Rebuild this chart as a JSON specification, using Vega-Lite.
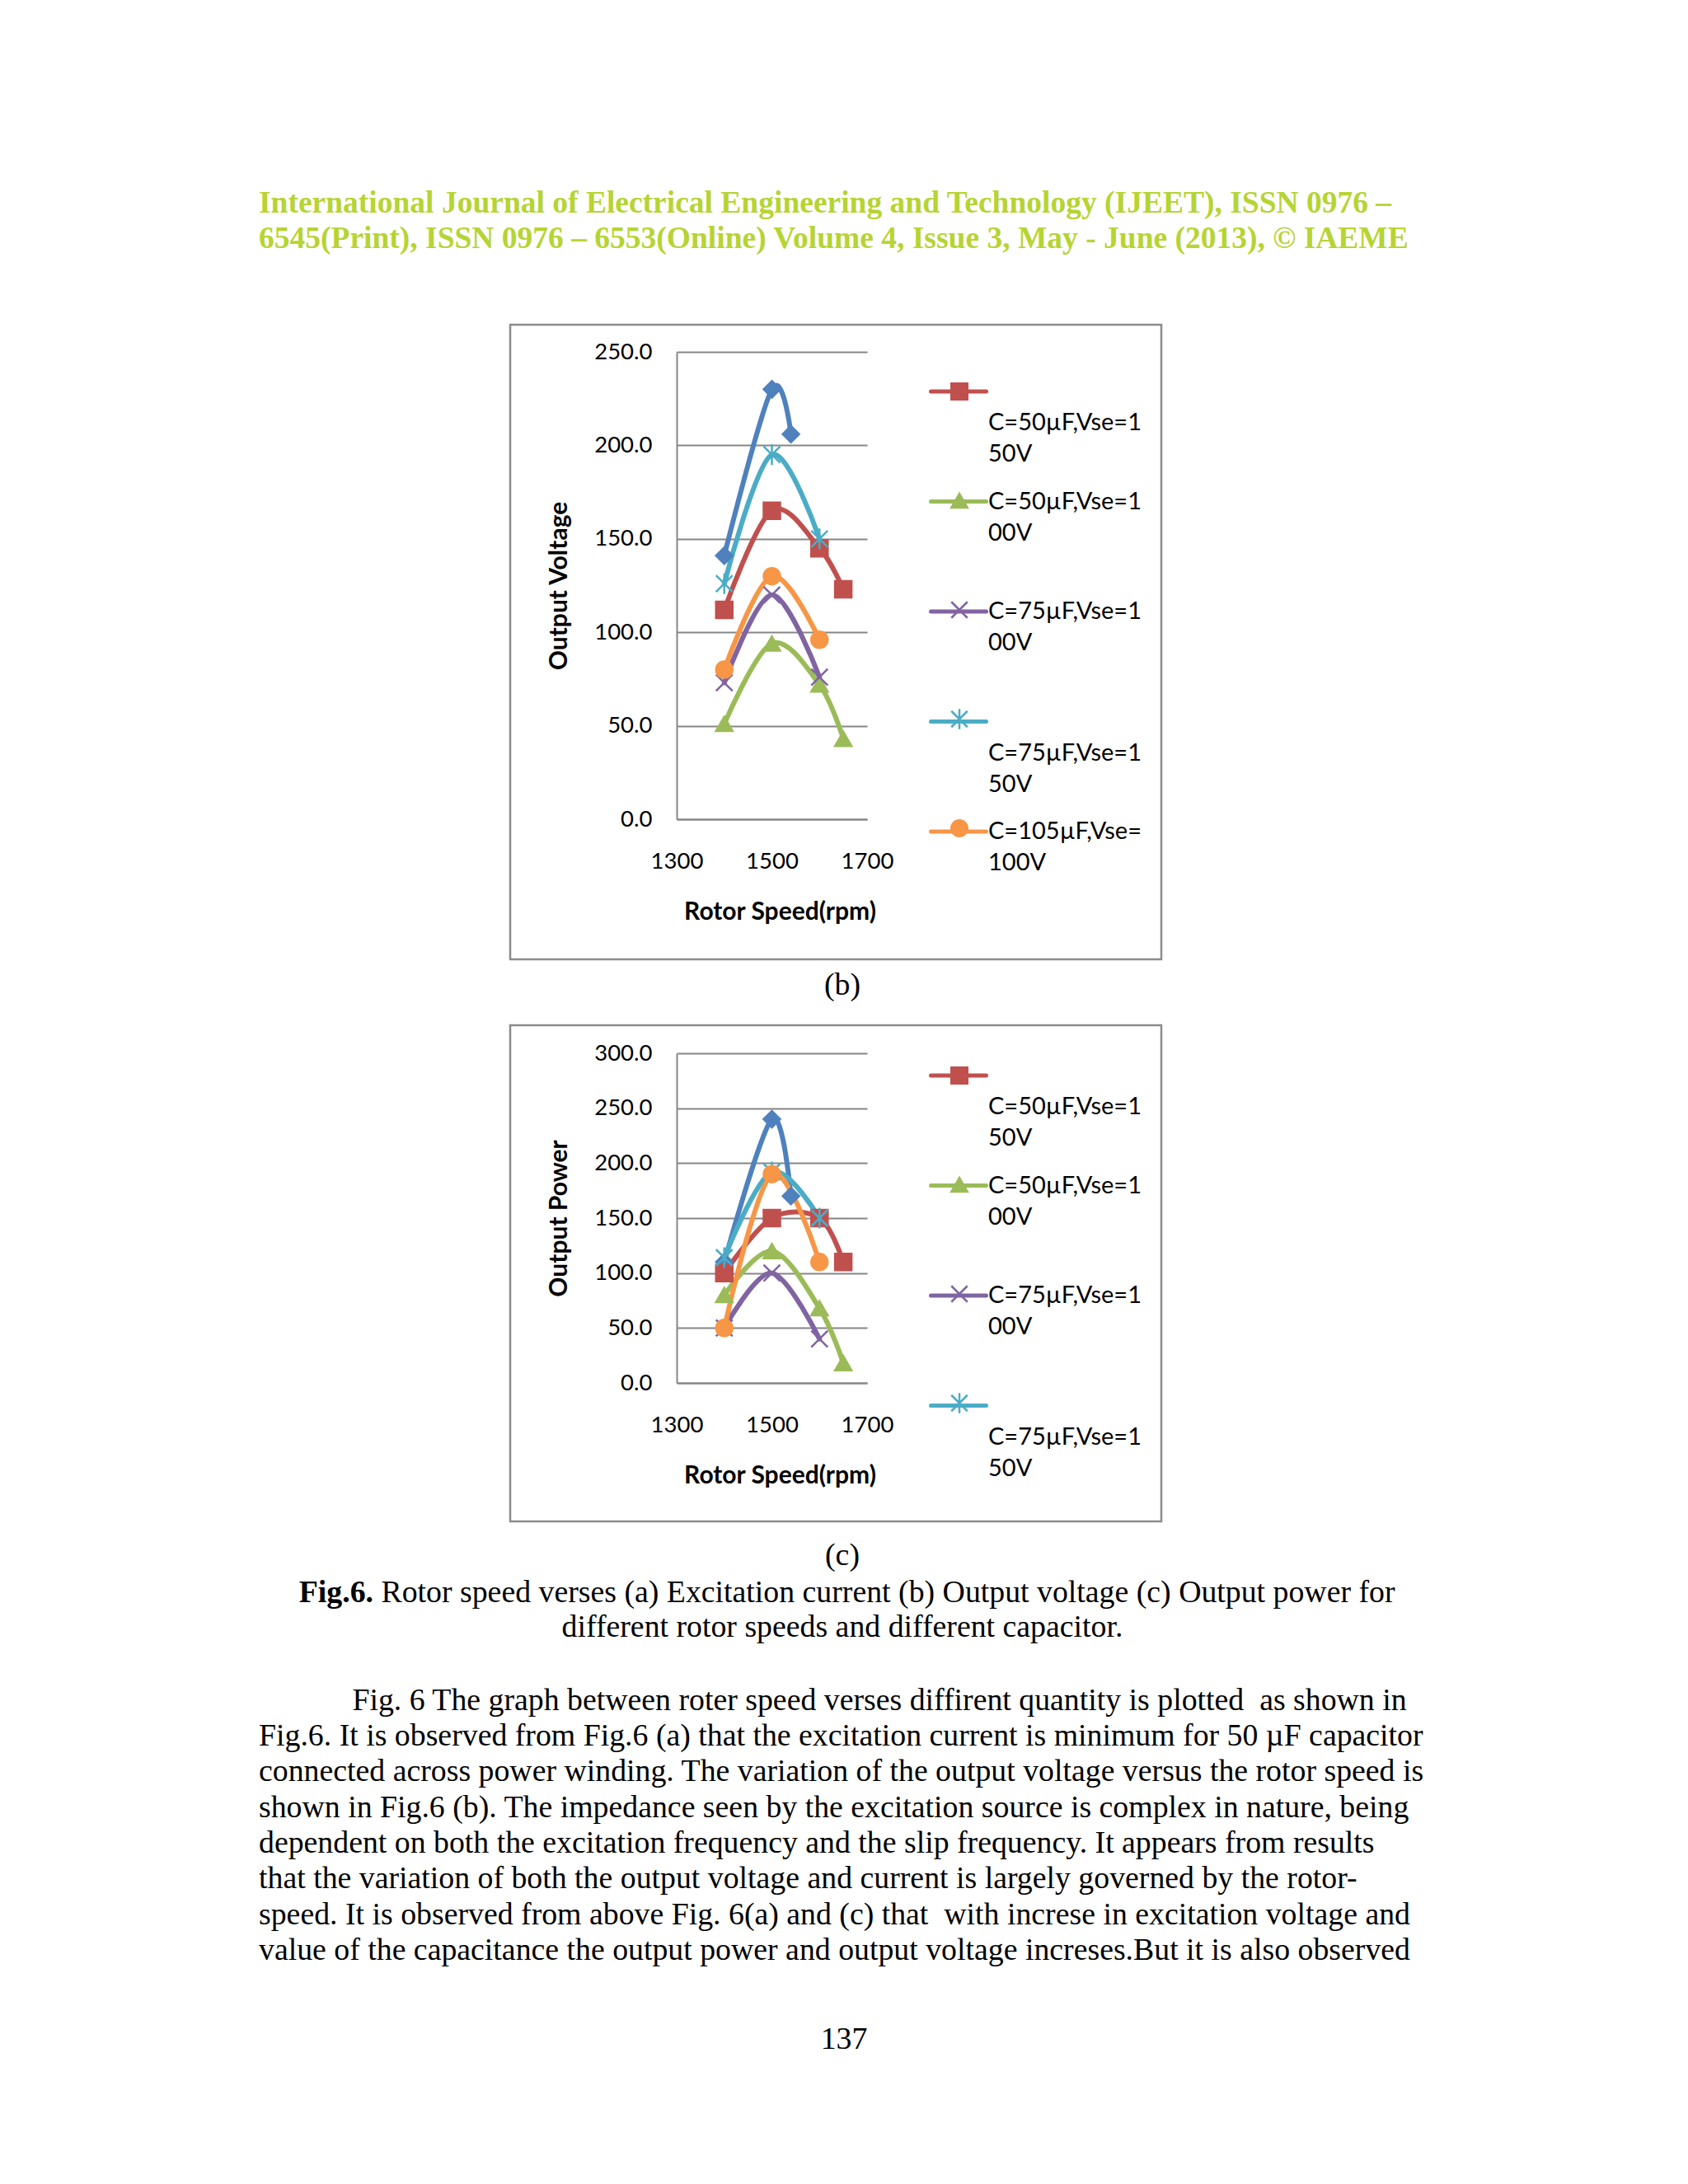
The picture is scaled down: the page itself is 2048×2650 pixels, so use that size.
{
  "$schema": "https://vega.github.io/schema/vega-lite/v6.json",
  "background": "white",
  "padding": 0,
  "spacing": 0,
  "bounds": "full",
  "config": {"view": {"stroke": null}},
  "resolve": {
    "scale": {"color": "independent", "fill": "independent", "stroke": "independent", "shape": "independent"},
    "legend": {"color": "independent", "fill": "independent", "stroke": "independent", "shape": "independent"}
  },
  "datasets": {
    "voltage": [
      {"series": "C=105µF,Vse=150V", "rpm": 1400, "value": 141},
      {"series": "C=105µF,Vse=150V", "rpm": 1500, "value": 230},
      {"series": "C=105µF,Vse=150V", "rpm": 1540, "value": 206},
      {"series": "C=50µF,Vse=150V", "rpm": 1400, "value": 112},
      {"series": "C=50µF,Vse=150V", "rpm": 1500, "value": 165},
      {"series": "C=50µF,Vse=150V", "rpm": 1600, "value": 145},
      {"series": "C=50µF,Vse=150V", "rpm": 1650, "value": 123},
      {"series": "C=50µF,Vse=100V", "rpm": 1400, "value": 51},
      {"series": "C=50µF,Vse=100V", "rpm": 1500, "value": 94},
      {"series": "C=50µF,Vse=100V", "rpm": 1600, "value": 72},
      {"series": "C=50µF,Vse=100V", "rpm": 1650, "value": 43},
      {"series": "C=75µF,Vse=100V", "rpm": 1400, "value": 73},
      {"series": "C=75µF,Vse=100V", "rpm": 1500, "value": 120},
      {"series": "C=75µF,Vse=100V", "rpm": 1600, "value": 76},
      {"series": "C=75µF,Vse=150V", "rpm": 1400, "value": 126},
      {"series": "C=75µF,Vse=150V", "rpm": 1500, "value": 195},
      {"series": "C=75µF,Vse=150V", "rpm": 1600, "value": 150},
      {"series": "C=105µF,Vse=100V", "rpm": 1400, "value": 80},
      {"series": "C=105µF,Vse=100V", "rpm": 1500, "value": 130},
      {"series": "C=105µF,Vse=100V", "rpm": 1600, "value": 96}
    ],
    "power": [
      {"series": "C=105µF,Vse=150V", "rpm": 1400, "value": 110},
      {"series": "C=105µF,Vse=150V", "rpm": 1500, "value": 240},
      {"series": "C=105µF,Vse=150V", "rpm": 1540, "value": 170},
      {"series": "C=50µF,Vse=150V", "rpm": 1400, "value": 100},
      {"series": "C=50µF,Vse=150V", "rpm": 1500, "value": 150},
      {"series": "C=50µF,Vse=150V", "rpm": 1600, "value": 150},
      {"series": "C=50µF,Vse=150V", "rpm": 1650, "value": 110},
      {"series": "C=50µF,Vse=100V", "rpm": 1400, "value": 80},
      {"series": "C=50µF,Vse=100V", "rpm": 1500, "value": 120},
      {"series": "C=50µF,Vse=100V", "rpm": 1600, "value": 68},
      {"series": "C=50µF,Vse=100V", "rpm": 1650, "value": 18},
      {"series": "C=75µF,Vse=100V", "rpm": 1400, "value": 50},
      {"series": "C=75µF,Vse=100V", "rpm": 1500, "value": 100},
      {"series": "C=75µF,Vse=100V", "rpm": 1600, "value": 40},
      {"series": "C=75µF,Vse=150V", "rpm": 1400, "value": 114},
      {"series": "C=75µF,Vse=150V", "rpm": 1500, "value": 192},
      {"series": "C=75µF,Vse=150V", "rpm": 1600, "value": 150},
      {"series": "C=105µF,Vse=100V", "rpm": 1400, "value": 50},
      {"series": "C=105µF,Vse=100V", "rpm": 1500, "value": 190},
      {"series": "C=105µF,Vse=100V", "rpm": 1600, "value": 110}
    ]
  },
  "vconcat": [
    {"width": 10, "height": 224.5, "data": {"values": []}, "mark": "point"},
    {
      "width": 628, "height": 86,
      "data": {"values": [
        {"line": 1, "t": "International Journal of Electrical Engineering and Technology (IJEET), ISSN 0976 –"},
        {"line": 2, "t": "6545(Print), ISSN 0976 – 6553(Online) Volume 4, Issue 3, May - June (2013), © IAEME"}
      ]},
      "mark": {"type": "text", "align": "left", "baseline": "middle", "font": "Liberation Serif", "fontWeight": "bold", "fontSize": 37.5, "color": "#b6d433"},
      "encoding": {
        "y": {"field": "line", "type": "ordinal", "axis": null, "scale": {"type": "band", "paddingInner": 0, "paddingOuter": 0}},
        "text": {"field": "t", "type": "nominal"}
      }
    },
    {"width": 10, "height": 80.25, "data": {"values": []}, "mark": "point"},
    {
      "resolve": {
        "scale": {"color": "independent", "fill": "independent", "stroke": "independent", "shape": "independent"},
        "legend": {"color": "independent", "fill": "independent", "stroke": "independent", "shape": "independent"}
      },
      "spacing": 0,
      "bounds": "full",
      "hconcat": [
        {"width": 617, "height": 770, "data": {"values": []}, "mark": "point"},
        {
          "width": 790, "height": 770,
          "view": {"stroke": "#8c8c8c", "strokeWidth": 2.5},
          "data": {"name": "voltage"},
          "encoding": {
            "x": {"field": "rpm", "type": "quantitative",
              "scale": {"domain": [1300, 1700], "range": [202, 433], "nice": false, "zero": false},
              "axis": {"orient": "bottom", "offset": -170, "values": [1300, 1500, 1700], "format": "d", "ticks": false, "grid": false, "domainColor": "#868686", "domainWidth": 2, "labelFont": "Lato", "labelFontSize": 27.5, "labelColor": "#000000", "labelPadding": 37, "labelFlush": false, "title": "Rotor Speed(rpm)", "titleFont": "Lato", "titleFontSize": 30, "titleFontWeight": "bold", "titleColor": "#000000", "titlePadding": 33, "titleX": 327}},
            "y": {"field": "value", "type": "quantitative",
              "scale": {"domain": [0, 250], "range": [600, 33], "nice": false},
              "axis": {"orient": "left", "offset": -202, "values": [0, 50, 100, 150, 200, 250], "format": ".1f", "ticks": false, "grid": true, "gridColor": "#868686", "gridWidth": 2, "domainColor": "#868686", "domainWidth": 2, "labelFont": "Lato", "labelFontSize": 27.5, "labelColor": "#000000", "labelPadding": 30, "title": "Output Voltage", "titleFont": "Lato", "titleFontSize": 30, "titleFontWeight": "bold", "titleColor": "#000000", "titlePadding": 27}}
          },
          "layer": [
            {
              "mark": {"type": "line", "interpolate": "cardinal", "strokeWidth": 6, "strokeCap": "round", "strokeJoin": "round"},
              "encoding": {
                "color": {"field": "series", "type": "nominal",
                  "scale": {"domain": ["C=105µF,Vse=150V", "C=50µF,Vse=150V", "C=50µF,Vse=100V", "C=75µF,Vse=100V", "C=75µF,Vse=150V", "C=105µF,Vse=100V"], "range": ["#4F81BD", "#C0504D", "#9BBB59", "#8064A2", "#4BACC6", "#F79646"]},
                  "legend": {
                    "orient": "none", "legendX": 508, "legendY": 45, "title": null, "direction": "vertical", "padding": 0,
                    "values": ["C=50µF,Vse=150V", "C=50µF,Vse=100V", "C=75µF,Vse=100V", "C=75µF,Vse=150V", "C=105µF,Vse=100V"],
                    "symbolType": "stroke", "symbolSize": 4489, "symbolStrokeWidth": 5,
                    "labelFont": "Lato", "labelFontSize": 29, "labelColor": "#000000", "labelLimit": 0, "labelOffset": 0, "labelBaseline": "middle",
                    "labelExpr": "indexof(datum.label, '150V') >= 0 ? ['', slice(datum.label, 0, 12), slice(datum.label, 12)] : [slice(datum.label, 0, 12), slice(datum.label, 12)]",
                    "rowPadding": 6.5, "gridAlign": "all",
                    "encode": {
                      "symbols": {"update": {"strokeCap": {"value": "round"}}},
                      "labels": {"update": {"lineHeight": {"value": 38}}}
                    }
                  }}
              }
            },
            {
              "mark": {"type": "point", "filled": true, "size": 400, "strokeWidth": 2.5, "opacity": 1},
              "encoding": {
                "fill": {"field": "series", "type": "nominal", "scale": {"domain": ["C=105µF,Vse=100V", "C=75µF,Vse=150V", "C=75µF,Vse=100V", "C=50µF,Vse=100V", "C=50µF,Vse=150V", "C=105µF,Vse=150V"], "range": ["#F79646", "#4BACC6", "#8064A2", "#9BBB59", "#C0504D", "#4F81BD"]},
                  "legend": {"orient": "none", "legendX": 530.5, "legendY": 66.5, "title": null, "direction": "vertical", "padding": 0, "values": ["C=50µF,Vse=150V", "C=50µF,Vse=100V", "C=75µF,Vse=100V", "C=75µF,Vse=150V", "C=105µF,Vse=100V"], "symbolSize": 380, "symbolStrokeWidth": 2.5, "labelFont": "Lato", "labelFontSize": 29, "labelLimit": 0, "labelOffset": 0, "labelBaseline": "middle", "labelOpacity": 0, "labelExpr": "''", "rowPadding": 97.5, "gridAlign": "all"}},
                "stroke": {"field": "series", "type": "nominal", "scale": {"domain": ["C=105µF,Vse=100V", "C=75µF,Vse=150V", "C=75µF,Vse=100V", "C=50µF,Vse=100V", "C=50µF,Vse=150V", "C=105µF,Vse=150V"], "range": ["#F79646", "#4BACC6", "#8064A2", "#9BBB59", "#C0504D", "#4F81BD"]},
                  "legend": {"orient": "none", "legendX": 530.5, "legendY": 66.5, "title": null, "direction": "vertical", "padding": 0, "values": ["C=50µF,Vse=150V", "C=50µF,Vse=100V", "C=75µF,Vse=100V", "C=75µF,Vse=150V", "C=105µF,Vse=100V"], "symbolSize": 380, "symbolStrokeWidth": 2.5, "labelFont": "Lato", "labelFontSize": 29, "labelLimit": 0, "labelOffset": 0, "labelBaseline": "middle", "labelOpacity": 0, "labelExpr": "''", "rowPadding": 97.5, "gridAlign": "all"}},
                "shape": {"field": "series", "type": "nominal", "scale": {"domain": ["C=105µF,Vse=100V", "C=75µF,Vse=150V", "C=75µF,Vse=100V", "C=50µF,Vse=100V", "C=50µF,Vse=150V", "C=105µF,Vse=150V"], "range": ["circle", "M-1,-1L1,1M-1,1L1,-1M0,-1.25V1.25", "M-1,-1L1,1M-1,1L1,-1", "triangle-up", "square", "diamond"]},
                  "legend": {"orient": "none", "legendX": 530.5, "legendY": 66.5, "title": null, "direction": "vertical", "padding": 0, "values": ["C=50µF,Vse=150V", "C=50µF,Vse=100V", "C=75µF,Vse=100V", "C=75µF,Vse=150V", "C=105µF,Vse=100V"], "symbolSize": 380, "symbolStrokeWidth": 2.5, "labelFont": "Lato", "labelFontSize": 29, "labelLimit": 0, "labelOffset": 0, "labelBaseline": "middle", "labelOpacity": 0, "labelExpr": "''", "rowPadding": 97.5, "gridAlign": "all"}}
              }
            }
          ]
        }
      ]
    },
    {"width": 10, "height": 7.5, "data": {"values": []}, "mark": "point"},
    {
      "width": 2044, "height": 43,
      "data": {"values": [{"t": "(b)"}]},
      "mark": {"type": "text", "align": "center", "baseline": "middle", "font": "Liberation Serif", "fontSize": 37.8, "color": "#000000"},
      "encoding": {"text": {"field": "t", "type": "nominal"}}
    },
    {"width": 10, "height": 24.75, "data": {"values": []}, "mark": "point"},
    {
      "resolve": {
        "scale": {"color": "independent", "fill": "independent", "stroke": "independent", "shape": "independent"},
        "legend": {"color": "independent", "fill": "independent", "stroke": "independent", "shape": "independent"}
      },
      "spacing": 0,
      "bounds": "full",
      "hconcat": [
        {"width": 617, "height": 602, "data": {"values": []}, "mark": "point"},
        {
          "width": 790, "height": 602,
          "view": {"stroke": "#8c8c8c", "strokeWidth": 2.5},
          "data": {"name": "power"},
          "encoding": {
            "x": {"field": "rpm", "type": "quantitative",
              "scale": {"domain": [1300, 1700], "range": [202, 433], "nice": false, "zero": false},
              "axis": {"orient": "bottom", "offset": -168, "values": [1300, 1500, 1700], "format": "d", "ticks": false, "grid": false, "domainColor": "#868686", "domainWidth": 2, "labelFont": "Lato", "labelFontSize": 27.5, "labelColor": "#000000", "labelPadding": 37, "labelFlush": false, "title": "Rotor Speed(rpm)", "titleFont": "Lato", "titleFontSize": 30, "titleFontWeight": "bold", "titleColor": "#000000", "titlePadding": 33, "titleX": 327}},
            "y": {"field": "value", "type": "quantitative",
              "scale": {"domain": [0, 300], "range": [434, 34], "nice": false},
              "axis": {"orient": "left", "offset": -202, "values": [0, 50, 100, 150, 200, 250, 300], "format": ".1f", "ticks": false, "grid": true, "gridColor": "#868686", "gridWidth": 2, "domainColor": "#868686", "domainWidth": 2, "labelFont": "Lato", "labelFontSize": 27.5, "labelColor": "#000000", "labelPadding": 30, "title": "Output Power", "titleFont": "Lato", "titleFontSize": 30, "titleFontWeight": "bold", "titleColor": "#000000", "titlePadding": 27}}
          },
          "layer": [
            {
              "mark": {"type": "line", "interpolate": "cardinal", "strokeWidth": 6, "strokeCap": "round", "strokeJoin": "round"},
              "encoding": {
                "color": {"field": "series", "type": "nominal",
                  "scale": {"domain": ["C=105µF,Vse=150V", "C=50µF,Vse=150V", "C=50µF,Vse=100V", "C=75µF,Vse=100V", "C=75µF,Vse=150V", "C=105µF,Vse=100V"], "range": ["#4F81BD", "#C0504D", "#9BBB59", "#8064A2", "#4BACC6", "#F79646"]},
                  "legend": {
                    "orient": "none", "legendX": 508, "legendY": 25, "title": null, "direction": "vertical", "padding": 0,
                    "values": ["C=50µF,Vse=150V", "C=50µF,Vse=100V", "C=75µF,Vse=100V", "C=75µF,Vse=150V"],
                    "symbolType": "stroke", "symbolSize": 4489, "symbolStrokeWidth": 5,
                    "labelFont": "Lato", "labelFontSize": 29, "labelColor": "#000000", "labelLimit": 0, "labelOffset": 0, "labelBaseline": "middle",
                    "labelExpr": "indexof(datum.label, '150V') >= 0 ? ['', slice(datum.label, 0, 12), slice(datum.label, 12)] : [slice(datum.label, 0, 12), slice(datum.label, 12)]",
                    "rowPadding": 6.5, "gridAlign": "all",
                    "encode": {
                      "symbols": {"update": {"strokeCap": {"value": "round"}}},
                      "labels": {"update": {"lineHeight": {"value": 38}}}
                    }
                  }}
              }
            },
            {
              "mark": {"type": "point", "filled": true, "size": 400, "strokeWidth": 2.5, "opacity": 1},
              "encoding": {
                "fill": {"field": "series", "type": "nominal", "scale": {"domain": ["C=105µF,Vse=100V", "C=75µF,Vse=150V", "C=75µF,Vse=100V", "C=50µF,Vse=100V", "C=50µF,Vse=150V", "C=105µF,Vse=150V"], "range": ["#F79646", "#4BACC6", "#8064A2", "#9BBB59", "#C0504D", "#4F81BD"]},
                  "legend": {"orient": "none", "legendX": 530.5, "legendY": 46.5, "title": null, "direction": "vertical", "padding": 0, "values": ["C=50µF,Vse=150V", "C=50µF,Vse=100V", "C=75µF,Vse=100V", "C=75µF,Vse=150V"], "symbolSize": 380, "symbolStrokeWidth": 2.5, "labelFont": "Lato", "labelFontSize": 29, "labelLimit": 0, "labelOffset": 0, "labelBaseline": "middle", "labelOpacity": 0, "labelExpr": "''", "rowPadding": 97.5, "gridAlign": "all"}},
                "stroke": {"field": "series", "type": "nominal", "scale": {"domain": ["C=105µF,Vse=100V", "C=75µF,Vse=150V", "C=75µF,Vse=100V", "C=50µF,Vse=100V", "C=50µF,Vse=150V", "C=105µF,Vse=150V"], "range": ["#F79646", "#4BACC6", "#8064A2", "#9BBB59", "#C0504D", "#4F81BD"]},
                  "legend": {"orient": "none", "legendX": 530.5, "legendY": 46.5, "title": null, "direction": "vertical", "padding": 0, "values": ["C=50µF,Vse=150V", "C=50µF,Vse=100V", "C=75µF,Vse=100V", "C=75µF,Vse=150V"], "symbolSize": 380, "symbolStrokeWidth": 2.5, "labelFont": "Lato", "labelFontSize": 29, "labelLimit": 0, "labelOffset": 0, "labelBaseline": "middle", "labelOpacity": 0, "labelExpr": "''", "rowPadding": 97.5, "gridAlign": "all"}},
                "shape": {"field": "series", "type": "nominal", "scale": {"domain": ["C=105µF,Vse=100V", "C=75µF,Vse=150V", "C=75µF,Vse=100V", "C=50µF,Vse=100V", "C=50µF,Vse=150V", "C=105µF,Vse=150V"], "range": ["circle", "M-1,-1L1,1M-1,1L1,-1M0,-1.25V1.25", "M-1,-1L1,1M-1,1L1,-1", "triangle-up", "square", "diamond"]},
                  "legend": {"orient": "none", "legendX": 530.5, "legendY": 46.5, "title": null, "direction": "vertical", "padding": 0, "values": ["C=50µF,Vse=150V", "C=50µF,Vse=100V", "C=75µF,Vse=100V", "C=75µF,Vse=150V"], "symbolSize": 380, "symbolStrokeWidth": 2.5, "labelFont": "Lato", "labelFontSize": 29, "labelLimit": 0, "labelOffset": 0, "labelBaseline": "middle", "labelOpacity": 0, "labelExpr": "''", "rowPadding": 97.5, "gridAlign": "all"}}
              }
            }
          ]
        }
      ]
    },
    {"width": 10, "height": 16.75, "data": {"values": []}, "mark": "point"},
    {
      "width": 2044, "height": 45,
      "data": {"values": [{"t": "(c)"}]},
      "mark": {"type": "text", "align": "center", "baseline": "middle", "font": "Liberation Serif", "fontSize": 37.8, "color": "#000000"},
      "encoding": {"text": {"field": "t", "type": "nominal"}}
    },
    {
      "width": 906, "height": 45,
      "layer": [
        {
          "data": {"values": [{"t": "Fig.6."}]},
          "mark": {"type": "text", "align": "right", "baseline": "middle", "font": "Liberation Serif", "fontWeight": "bold", "fontSize": 37.8, "color": "#000000"},
          "encoding": {"text": {"field": "t", "type": "nominal"}}
        },
        {
          "data": {"values": [{"t": "\u200b\u00a0Rotor speed verses (a) Excitation current (b) Output voltage (c) Output power for"}]},
          "mark": {"type": "text", "align": "left", "baseline": "middle", "font": "Liberation Serif", "fontSize": 37.8, "color": "#000000"},
          "encoding": {"text": {"field": "t", "type": "nominal"}}
        }
      ]
    },
    {
      "width": 2044, "height": 40,
      "data": {"values": [{"t": "different rotor speeds and different capacitor."}]},
      "mark": {"type": "text", "align": "center", "baseline": "middle", "font": "Liberation Serif", "fontSize": 37.8, "color": "#000000"},
      "encoding": {"text": {"field": "t", "type": "nominal"}}
    },
    {"width": 10, "height": 46.3, "data": {"values": []}, "mark": "point"},
    {
      "width": 628, "height": 346.8,
      "data": {"values": [
        {"line": 1, "t": "\u200b\u00a0\u00a0\u00a0\u00a0\u00a0\u00a0\u00a0\u00a0\u00a0\u00a0\u00a0\u00a0Fig. 6 The graph between roter speed verses diffirent quantity is plotted\u00a0 as shown in"},
        {"line": 2, "t": "Fig.6. It is observed from Fig.6 (a) that the excitation current is minimum for 50 µF capacitor"},
        {"line": 3, "t": "connected across power winding. The variation of the output voltage versus the rotor speed is"},
        {"line": 4, "t": "shown in Fig.6 (b). The impedance seen by the excitation source is complex in nature, being"},
        {"line": 5, "t": "dependent on both the excitation frequency and the slip frequency. It appears from results"},
        {"line": 6, "t": "that the variation of both the output voltage and current is largely governed by the rotor-"},
        {"line": 7, "t": "speed. It is observed from above Fig. 6(a) and (c) that\u00a0 with increse in excitation voltage and"},
        {"line": 8, "t": "value of the capacitance the output power and output voltage increses.But it is also observed"}
      ]},
      "mark": {"type": "text", "align": "left", "baseline": "middle", "font": "Liberation Serif", "fontSize": 37.8, "color": "#000000"},
      "encoding": {
        "y": {"field": "line", "type": "ordinal", "axis": null, "scale": {"type": "band", "paddingInner": 0, "paddingOuter": 0}},
        "text": {"field": "t", "type": "nominal"}
      }
    },
    {
      "width": 2048, "height": 171.8,
      "data": {"values": [{"t": "137"}]},
      "mark": {"type": "text", "align": "center", "baseline": "middle", "font": "Liberation Serif", "fontSize": 37.8, "color": "#000000"},
      "encoding": {"text": {"field": "t", "type": "nominal"}}
    }
  ]
}
